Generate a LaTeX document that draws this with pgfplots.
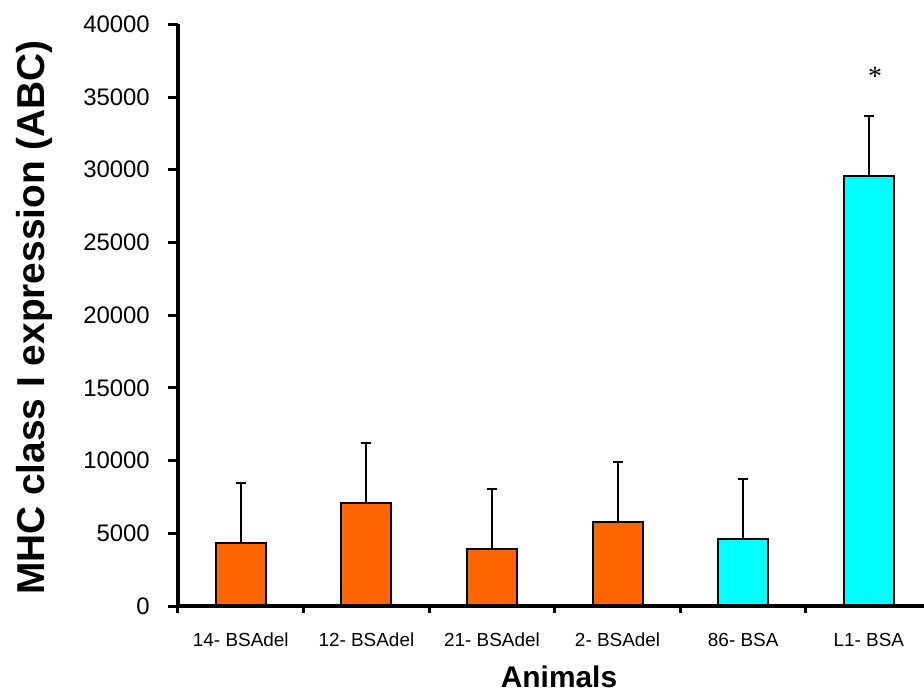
\documentclass[border=0pt]{standalone}
\usepackage{pgfplots}
\pgfplotsset{compat=1.18}
\usepackage{fontspec}
\setmainfont{Liberation Sans}
\newfontfamily\serifast{Liberation Serif}
\definecolor{barorange}{HTML}{FF6600}
\definecolor{barcyan}{HTML}{00FFFF}

\begin{document}
\begin{tikzpicture}
\useasboundingbox (-178bp,-87bp) rectangle (746bp,606bp);
\begin{axis}[
  at={(0,0)}, anchor=south west,
  scale only axis, width=753.6bp, height=581.7bp,
  xmin=0, xmax=6, ymin=0, ymax=40000,
  axis x line*=bottom, axis y line*=left,
  axis line style={line width=3.5bp, black, -},
  axis on top,
  ybar, bar width=50bp,
  xtick={0.5,1.5,2.5,3.5,4.5,5.5},
  xticklabels={14- BSAdel, 12- BSAdel, 21- BSAdel, 2- BSAdel, 86- BSA, L1- BSA},
  major x tick style={draw=none},
  minor xtick={0,1,2,3,4,5},
  minor tick length=7bp,
  ytick={0,5000,...,40000},
  major tick length=10bp,
  tick align=outside,
  tick style={black, line width=3bp},
  scaled y ticks=false,
  /pgf/number format/.cd, 1000 sep={}, assume math mode=true,
  /pgfplots/.cd,
  yticklabel style={font=\fontsize{24}{24}\selectfont, anchor=east, inner sep=0pt, xshift=-18bp},
  xticklabel style={font=\fontsize{19}{19}\selectfont, anchor=base, inner sep=0pt, yshift=-30bp},
  ylabel={MHC class I expression (ABC)},
  ylabel style={font=\fontsize{39}{39}\selectfont\bfseries, at={(axis description cs:-0.19,0.496)}, anchor=center},
  xlabel={Animals},
  xlabel style={font=\fontsize{30}{30}\selectfont\bfseries, at={(axis description cs:0.5056,-0.121)}, anchor=center},
]
% BSAdel animals
\addplot[bar shift=0pt, fill=barorange, draw=black, line width=2bp,
  error bars/.cd, y dir=plus, y explicit,
  error bar style={line width=2bp, black},
  error mark options={rotate=90, mark size=5bp, line width=2bp, black}]
  coordinates {(0.5,4300) +- (0,4170) (1.5,7100) +- (0,4120) (2.5,3900) +- (0,4150) (3.5,5750) +- (0,4120)};
% BSA animals
\addplot[bar shift=0pt, fill=barcyan, draw=black, line width=2bp,
  error bars/.cd, y dir=plus, y explicit,
  error bar style={line width=2bp, black},
  error mark options={rotate=90, mark size=5bp, line width=2bp, black}]
  coordinates {(4.5,4630) +- (0,4130) (5.5,29550) +- (0,4110)};
\node[anchor=center, inner sep=0pt] at (axis cs:5.55,36400) {\fontsize{28}{28}\selectfont\serifast *};
\end{axis}
\end{tikzpicture}
\end{document}
